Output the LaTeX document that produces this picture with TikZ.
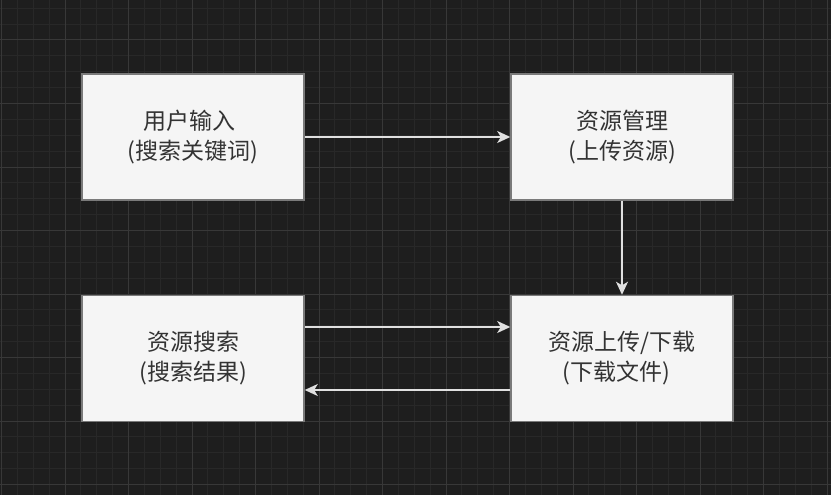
\documentclass[tikz,border=0pt]{standalone}
\usepackage{fontspec}
\newfontfamily\cjk{Noto Sans CJK SC}
\usetikzlibrary{arrows.meta}
\definecolor{canvasbg}{HTML}{1E1E1E}
\definecolor{gridminor}{HTML}{282828}
\definecolor{gridmajor}{HTML}{383838}
\definecolor{boxfill}{HTML}{F5F5F5}
\definecolor{boxline}{HTML}{7A7A7A}
\definecolor{boxtext}{HTML}{333333}
\definecolor{linkcol}{HTML}{E0E0E0}
\tikzset{
  box/.style={draw=boxline, line width=1.5pt, fill=boxfill, minimum width=222pt,
    minimum height=126pt, inner sep=0pt, align=center, text=boxtext,
    font=\cjk\fontsize{23}{30}\selectfont},
  link/.style={draw=linkcol, line width=1.6pt,
    -{Stealth[length=13pt, width=12pt, inset=3.5pt]}}
}
\begin{document}
\begin{tikzpicture}[x=1pt, y=-1pt]
  % canvas
  \fill[canvasbg] (0,0) rectangle (831,495);
  \useasboundingbox (0,0) rectangle (831,495);
  % minor grid
  \foreach \i in {0,...,52} {
    \draw[gridminor, line width=1pt] ({1.5+15.875*\i},0) -- ({1.5+15.875*\i},495);
  }
  \foreach \j in {0,...,31} {
    \draw[gridminor, line width=1pt] (0,{8.25+15.875*\j}) -- (831,{8.25+15.875*\j});
  }
  % major grid
  \foreach \i in {0,...,13} {
    \draw[gridmajor, line width=1pt] ({1.5+63.5*\i},0) -- ({1.5+63.5*\i},495);
  }
  \foreach \j in {0,...,7} {
    \draw[gridmajor, line width=1pt] (0,{40+63.5*\j}) -- (831,{40+63.5*\j});
  }
  % boxes
  \node[box] (input)  at (193,137)   {用户输入\hspace*{8pt}\\(搜索关键词)};
  \node[box] (manage) at (622,137)   {资源管理\\(上传资源)};
  \node[box] (search) at (193,358.5) {资源搜索\\(搜索结果)};
  \node[box] (trans)  at (622,358.5) {资源上传/下载\\(下载文件)\hspace*{12pt}};
  % connectors
  \draw[link] (input.east) -- (manage.west);
  \draw[link] (manage.south) -- (trans.north);
  \draw[link] ([yshift=31.5pt]search.east) -- ([yshift=31.5pt]trans.west);
  \draw[link] ([yshift=-31.5pt]trans.west) -- ([yshift=-31.5pt]search.east);
\end{tikzpicture}
\end{document}
